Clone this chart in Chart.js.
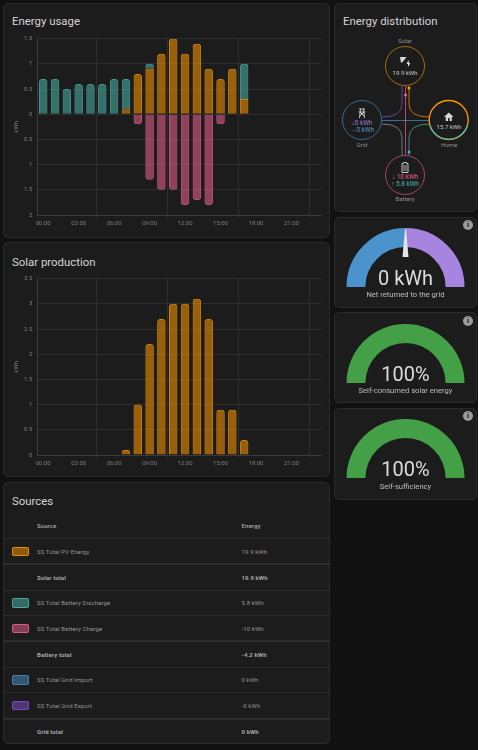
<!DOCTYPE html>
<html>
<head>
<meta charset="UTF-8">
<title>Energy</title>
<script src="https://cdn.jsdelivr.net/npm/chart.js"></script>
<style>
html, body { margin: 0; padding: 0; background: #111111; }
body { width: 478px; height: 750px; position: relative; overflow: hidden; font-family: Roboto, sans-serif; }
.card { position: absolute; background: #1c1c1c; border: 1px solid #2b2b2b; border-radius: 5px; box-sizing: border-box; }
.title { position: absolute; font-size: 11.4px; color: #d4d4d4; line-height: 14px; white-space: nowrap; }
canvas { position: absolute; }
.gval { position: absolute; left: 334px; width: 143px; text-align: center; font-size: 20px; line-height: 22px; color: #dcdcdc; }
.glab { position: absolute; left: 334px; width: 143px; text-align: center; font-size: 7.6px; line-height: 10px; color: #bdbdbd; }
.info { position: absolute; left: 463px; width: 10px; height: 10px; border-radius: 50%; background: #9b9b9b; color: #1c1c1c; font-size: 8px; line-height: 10px; text-align: center; font-weight: bold; }
table { position: absolute; left: 4px; top: 513px; width: 325px; border-collapse: collapse; font-size: 6px; color: #969696; letter-spacing: 0.1px; }
td, th { padding: 0; height: 25.7px; text-align: left; border-bottom: 1px solid #2a2a2a; box-sizing: border-box; }
th { color: #ababab; font-weight: 500; }
tr.total td { font-weight: bold; color: #a8a8a8; border-bottom: 1px solid #2a2a2a; }
tr.pretotal td { border-bottom: 2px solid #2c2c2c; }
tr:last-child td { border-bottom: none; }
.swatch { display: block; width: 17px; height: 9.5px; border-radius: 2px; margin-left: 8px; border: 1px solid; box-sizing: border-box; }
</style>
</head>
<body>

<div class="card" style="left:3px;top:3px;width:327px;height:235px"></div>
<div class="title" style="left:12px;top:14px">Energy usage</div>
<canvas id="usage" style="left:8px;top:30px"></canvas>

<div class="card" style="left:3px;top:242px;width:327px;height:235px"></div>
<div class="title" style="left:12px;top:254.5px">Solar production</div>
<canvas id="solar" style="left:8px;top:270px"></canvas>

<div class="card" style="left:3px;top:482px;width:327px;height:262px"></div>
<div class="title" style="left:12px;top:493.5px">Sources</div>
<table id="sources"></table>

<div class="card" style="left:334px;top:3px;width:143px;height:209px"></div>
<div class="title" style="left:343px;top:14px">Energy distribution</div>
<svg style="position:absolute;left:333px;top:0" width="145" height="215" viewBox="333 0 145 215" font-family="Roboto, sans-serif" font-size="6" text-anchor="middle">
  <g fill="none" stroke-width="0.9" stroke-opacity="0.8">
    <path d="M402 86 V104 Q402 117 382 117" stroke="#8353d1"/>
    <path d="M409 86 V104 Q409 117 429 117" stroke="#ff9800"/>
    <path d="M382 120.5 H429" stroke="#488fc2"/>
    <path d="M382 124 Q402 124 402 138 V155" stroke="#9a9a9a"/>
    <path d="M429 124 Q409 124 409 138 V155" stroke="#4db6ac"/>
    <path d="M405.5 86 V155" stroke="#f06292"/>
  </g>
  <circle cx="409" cy="88" r="1.5" fill="#ff9800"/>
  <circle cx="405.5" cy="95" r="1.5" fill="#f06292"/>
  <circle cx="409" cy="152" r="1.5" fill="#4db6ac"/>

  <circle cx="405" cy="66" r="19.5" fill="#1c1c1c" stroke="#ff9800" stroke-opacity="0.7" stroke-width="0.9"/>
  <circle cx="362" cy="120" r="19.5" fill="#1c1c1c" stroke="#488fc2" stroke-opacity="0.75" stroke-width="0.9"/>
  <circle cx="405" cy="175" r="19.5" fill="#1c1c1c" stroke="#f06292" stroke-opacity="0.7" stroke-width="0.9"/>
  <circle cx="448.7" cy="120" r="19.5" fill="#1c1c1c" stroke="#ff9800" stroke-width="1.3"/>
  <path d="M429.9 125 A19.5 19.5 0 0 0 467.5 125" fill="none" stroke="#4db6ac" stroke-width="1.3"/>

  <g fill="#8e8e8e">
    <text x="405" y="43.3">Solar</text>
    <text x="362" y="147.3">Grid</text>
    <text x="449" y="147.3">Home</text>
    <text x="405" y="201.3">Battery</text>
  </g>

  <!-- icons -->
  <g fill="#d8d8d8" stroke="none">
    <path d="M400 57 H406.5 L403 61.5 L401 63 Z"/>
    <path d="M408.5 60 L406.5 64 H408 V67 L410.5 63 H409 Z"/>
    <path d="M444 117 H445.8 V121 H448 V118 H449.6 V121 H451.8 V117 H453.6 L448.8 112.6 Z"/>
    <path d="M402 163.5 H403.5 V162.5 H406.5 V163.5 H408 V172.5 H402 Z" fill="none" stroke="#d8d8d8" stroke-width="0.9"/>
    <path d="M403 166 H407 M403 168 H407 M403 170 H407" stroke="#d8d8d8" stroke-width="0.8"/>
  </g>
  <path d="M359 109 H365 M358.5 112 H365.5 M360.5 109 L359.5 118 M363.5 109 L364.5 118 M360 116 L364 112 M364 116 L360 112" fill="none" stroke="#d8d8d8" stroke-width="0.9"/>

  <text x="405" y="74.5" fill="#c8c8c8">19.9 kWh</text>
  <text x="449" y="128.8" fill="#c8c8c8">15.7 kWh</text>
  <text x="362" y="125" fill="#9c7ad8" font-size="6.4">↓0 kWh</text>
  <text x="362" y="131.7" fill="#5a97c8" font-size="6.4">→0 kWh</text>
  <text x="405" y="179.2" fill="#e0608c" font-size="6.4">↓ 10 kWh</text>
  <text x="405" y="186.2" fill="#4db6ac" font-size="6.4">↑ 5.8 kWh</text>
</svg>

<div class="card" style="left:334px;top:217px;width:143px;height:91px"></div>
<div class="info" style="top:220px">i</div>
<canvas id="gauge1" style="left:346px;top:228px"></canvas>
<div class="gval" style="top:267px">0 kWh</div>
<div class="glab" style="top:290px">Net returned to the grid</div>

<div class="card" style="left:334px;top:312px;width:143px;height:91px"></div>
<div class="info" style="top:316px">i</div>
<canvas id="gauge2" style="left:346px;top:323.5px"></canvas>
<div class="gval" style="top:363px">100%</div>
<div class="glab" style="top:386px">Self-consumed solar energy</div>

<div class="card" style="left:334px;top:408px;width:143px;height:92px"></div>
<div class="info" style="top:411px">i</div>
<canvas id="gauge3" style="left:346px;top:419px"></canvas>
<div class="gval" style="top:458px">100%</div>
<div class="glab" style="top:482px">Self-sufficiency</div>

<script>
const hours = ['00:00','01:00','02:00','03:00','04:00','05:00','06:00','07:00','08:00','09:00','10:00','11:00',
               '12:00','13:00','14:00','15:00','16:00','17:00','18:00','19:00','20:00','21:00','22:00','23:00'];

const usageSolar     = [null,null,null,null,null,null,null,0.1,0.8,0.9,1.2,1.5,1.2,1.4,0.9,0.7,0.9,0.3,null,null,null,null,null,null];
const usageDischarge = [0.7,0.7,0.5,0.6,0.6,0.6,0.7,0.6,null,0.1,null,null,null,null,null,null,null,0.7,null,null,null,null,null,null];
const usageCharge    = [null,null,null,null,null,null,null,null,-0.2,-1.3,-1.5,-1.5,-1.8,-1.7,-1.8,-0.2,null,null,null,null,null,null,null,null];

const production = [null,null,null,null,null,null,null,0.1,1.0,2.2,2.7,3.0,3.0,3.1,2.7,0.9,0.9,0.3,null,null,null,null,null,null];

const netSplit = [50, 50];
const selfConsumed = [100];
const selfSufficiency = [100];

const sourceNames  = ['SS Total PV Energy','Solar total','SS Total Battery Discharge','SS Total Battery Charge','Battery total','SS Total Grid Import','SS Total Grid Export','Grid total'];
const sourceValues = ['19.9 kWh','19.9 kWh','5.8 kWh','-10 kWh','-4.2 kWh','0 kWh','-0 kWh','0 kWh'];
const sourceColors = ['255,152,0',null,'77,182,172','240,98,146',null,'72,143,194','131,83,209',null];

const FILL = 0.55;
const gridColor = '#2e2e2e';
const tickColor = '#7e7e7e';

function barDataset(values, rgb) {
    return {
        data: values,
        backgroundColor: 'rgba(' + rgb + ',' + FILL + ')',
        borderColor: 'rgba(' + rgb + ',0.8)',
        borderWidth: 1,
        borderRadius: 3,
        barPercentage: 0.9,
        categoryPercentage: 0.8
    };
}

function makeBarChart(id, datasets, yMin, yMax) {
    const canvas = document.getElementById(id);
    canvas.width = 316;
    canvas.height = 202;
    return new Chart(canvas, {
        type: 'bar',
        data: { labels: hours, datasets: datasets },
        options: {
            responsive: false,
            animation: false,
            layout: { padding: { top: 7, right: 3, left: 0, bottom: 0 } },
            plugins: { legend: { display: false }, tooltip: { enabled: false } },
            scales: {
                x: {
                    stacked: true,
                    grid: { color: gridColor, tickLength: 3 },
                    border: { color: '#3a3a3a' },
                    ticks: {
                        color: tickColor, font: { size: 6, family: 'Roboto' }, maxRotation: 0,
                        autoSkip: true, maxTicksLimit: 8, padding: 2
                    },
                    afterFit: function (axis) { axis.height = 17; }
                },
                y: {
                    stacked: true,
                    min: yMin,
                    max: yMax,
                    grid: { color: gridColor, drawTicks: false },
                    border: { color: '#3a3a3a' },
                    title: { display: true, text: 'kWh', color: tickColor, font: { size: 6, family: 'Roboto' }, padding: { top: 5, bottom: 0 } },
                    ticks: {
                        color: tickColor, font: { size: 6, family: 'Roboto' }, stepSize: 0.5, padding: 5,
                        callback: function (v) { return Math.abs(v); }
                    },
                    afterFit: function (axis) { axis.width = 29.3; }
                }
            }
        }
    });
}

makeBarChart('usage', [
    barDataset(usageSolar, '255,152,0'),
    barDataset(usageDischarge, '77,182,172'),
    barDataset(usageCharge, '240,98,146')
], -2, 1.5);

makeBarChart('solar', [ barDataset(production, '255,152,0') ], 0, 3.5);

// little pointer on the first gauge
const needle = {
    id: 'needle',
    afterDraw: function (chart) {
        const arc = chart.getDatasetMeta(0).data[0];
        const ctx = chart.ctx;
        ctx.save();
        ctx.fillStyle = '#e4e4e4';
        ctx.beginPath();
        ctx.moveTo(arc.x - 3, arc.y - 30);
        ctx.lineTo(arc.x + 3, arc.y - 30);
        ctx.lineTo(arc.x + 0.5, arc.y - 58);
        ctx.lineTo(arc.x - 0.5, arc.y - 58);
        ctx.closePath();
        ctx.fill();
        ctx.restore();
    }
};

function makeGauge(id, values, colors, plugins) {
    const canvas = document.getElementById(id);
    canvas.width = 119;
    canvas.height = 59;
    return new Chart(canvas, {
        type: 'doughnut',
        data: { datasets: [{ data: values, backgroundColor: colors, borderWidth: 0 }] },
        options: {
            responsive: false,
            animation: false,
            rotation: -90,
            circumference: 180,
            cutout: '68%',
            plugins: { legend: { display: false }, tooltip: { enabled: false } }
        },
        plugins: plugins || []
    });
}

makeGauge('gauge1', netSplit, ['#4b93cd', '#a784e0'], [needle]);
makeGauge('gauge2', selfConsumed, ['#43a047']);
makeGauge('gauge3', selfSufficiency, ['#43a047']);

// sources table
let rows = '<tr><th style="width:33px"></th><th style="width:204.5px">Source</th><th>Energy</th></tr>';
for (let i = 0; i < sourceNames.length; i++) {
    const rgb = sourceColors[i];
    const isTotal = rgb === null;
    const beforeTotal = i + 1 < sourceNames.length && sourceColors[i + 1] === null;
    const cls = isTotal ? 'total' : (beforeTotal ? 'pretotal' : '');
    const swatch = isTotal ? '' : '<span class="swatch" style="background:rgba(' + rgb + ',0.5);border-color:rgba(' + rgb + ',0.8)"></span>';
    rows += '<tr class="' + cls + '"><td>' + swatch + '</td><td>' + sourceNames[i] + '</td><td>' + sourceValues[i] + '</td></tr>';
}
document.getElementById('sources').innerHTML = rows;
</script>
</body>
</html>
